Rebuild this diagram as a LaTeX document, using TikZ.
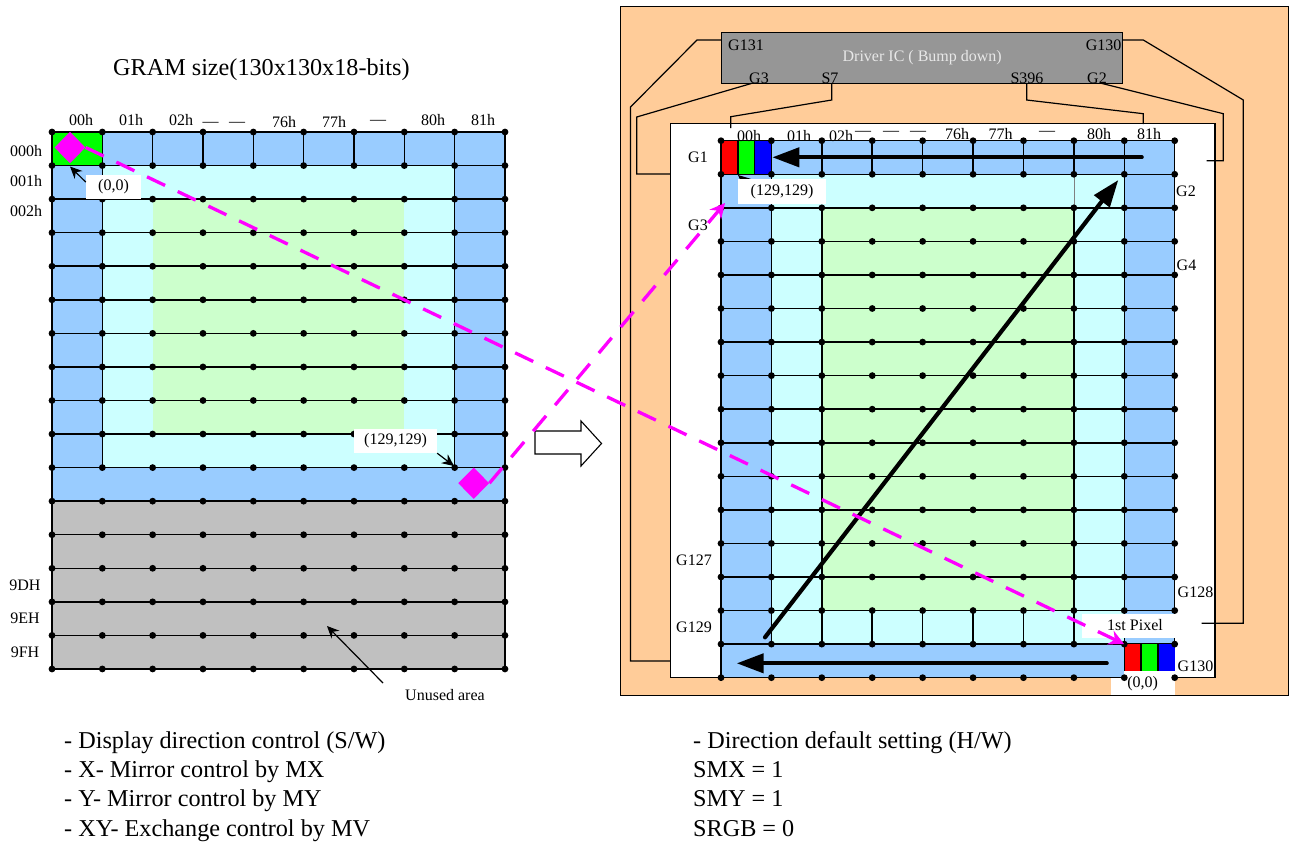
\documentclass[tikz,border=0pt]{standalone}
\usepackage{fontspec}
\setmainfont{Liberation Serif}
\usetikzlibrary{arrows.meta,shapes.geometric}
\definecolor{bluecell}{RGB}{153,204,255}
\definecolor{cyancell}{RGB}{204,255,255}
\definecolor{greencell}{RGB}{204,255,204}
\definecolor{graycell}{RGB}{192,192,192}
\definecolor{panel}{RGB}{255,204,153}
\definecolor{chip}{RGB}{150,150,150}
\definecolor{chiptext}{RGB}{232,232,232}
\definecolor{mg}{RGB}{255,0,255}
\tikzset{
  small/.style={inner sep=0pt,font=\fontsize{16}{18}\selectfont},
  big/.style={inner sep=0pt,anchor=west,font=\fontsize{24.2}{26}\selectfont},
  tag/.style={small,fill=white,minimum width=#1,minimum height=24pt},
  gridline/.style={line width=1.5pt},
  wire/.style={line width=1.2pt},
  pixmark/.style={diamond,fill=mg,inner sep=0pt,minimum width=31pt,minimum height=31.5pt},
  mgline/.style={draw=mg,line width=3.3pt,dash pattern=on 20pt off 14pt,-{Stealth[length=15pt,width=15pt]}},
  thick arrow/.style={line width=4.2pt,line cap=round,-{Triangle[length=27pt,width=19pt]}},
  thin arrow/.style={line width=1.2pt,-{Stealth[length=12pt,width=11pt]}},
}
\begin{document}
\begin{tikzpicture}[x=1pt,y=-1pt]
  \useasboundingbox (0,0) rectangle (1289,844);

  % title
  \node[big] (title) at (113,70) {GRAM size(130x130x18-bits)};

  % left grid
  \begin{scope}[shift={(52,132)},x=50.33pt,y=-33.56pt]
    \fill[bluecell] (0,0) rectangle (9,11);
    \fill[cyancell] (1,1) rectangle (8,10);
    \fill[greencell] (2,2) rectangle (7,9);
    \fill[graycell] (0,11) rectangle (9,16);
    \fill[green] (0,0) rectangle (1,1);
    \foreach \j in {0,...,16}
      \draw[gridline] (0,\j) -- (9,\j);
    \foreach \i in {0,9}
      \draw[gridline] (\i,0) -- (\i,16);
    \foreach \i in {1,8}
      \draw[gridline] (\i,0) -- (\i,10);
    \foreach \i in {2,...,7}
      \draw[gridline] (\i,0) -- (\i,1);
    \foreach \i in {0,...,9}
      \foreach \j in {0,...,16}
        \fill (\i,\j) circle[radius=3.4pt];
  \end{scope}

  % left column heads
  \node[small] (la) at (81,120) {00h};
  \node[small] (lb) at (131,120) {01h};
  \node[small] (lc) at (181,120) {02h};
  \node[small] (ld) at (210.5,124) {—};
  \node[small] (le) at (237,124) {—};
  \node[small] (lf) at (284,122) {76h};
  \node[small] (lg) at (334,122) {77h};
  \node[small] (lh) at (378,122) {—};
  \node[small] (li) at (433,120) {80h};
  \node[small] (lj) at (483,120) {81h};

  % left row heads
  \node[small] (ra) at (26,151) {000h};
  \node[small] (rb) at (26,181) {001h};
  \node[small] (rc) at (26,211) {002h};
  \node[small] (rd) at (25,585) {9DH};
  \node[small] (re) at (25,618) {9EH};
  \node[small] (rf) at (25,652) {9FH};

  % left callouts
  \node[tag=55pt] (zeroL) at (113.5,187) {(0,0)};
  \node[tag=83pt] (lastL) at (395.5,441) {(129,129)};
  \coordinate (zeroTip) at (70,166.5);
  \coordinate (lastTip) at (454,466);
  \draw[thin arrow] (zeroL.170) -- (zeroTip);
  \draw[thin arrow] (lastL.south east) -- (lastTip);
  \node[small] (unused) at (445,695) {Unused area};
  \coordinate (unusedEnd) at (383,683);
  \coordinate (unusedTip) at (327,626);
  \draw[thin arrow] (unusedEnd) -- (unusedTip);

  % hollow arrow
  \draw[line width=1.1pt,fill=white] (535,431) -- (581,431) -- (581,421) -- (601.5,443.5)
    -- (581,466) -- (581,454) -- (535,454) -- cycle;

  % right board
  \draw[line width=1pt,fill=panel] (620,6) rectangle (1288,695);
  \draw[line width=1.1pt,fill=white] (670.7,123.5) rectangle (1215,677.7);
  \node[draw,line width=1.1pt,fill=chip,minimum width=401pt,minimum height=50.6pt,inner sep=0pt,
    text=chiptext,font=\fontsize{16}{18}\selectfont] (ic) at (922.2,58) {Driver IC ( Bump down)};

  % wires
  \draw[wire] (721.7,40) -- (697,40) -- (630.5,107) -- (630.5,661) -- (670.7,661);
  \draw[wire] (753,83) -- (636.7,117) -- (636.7,174) -- (670.7,174);
  \draw[wire] (831.7,83) -- (831.7,100) -- (730.7,116.7) -- (730.7,128);
  \draw[wire] (1026.7,83) -- (1026.7,100) -- (1143.3,113.7) -- (1143.3,124);
  \draw[wire] (1100,83) -- (1223.3,113.7) -- (1223.3,160.7) -- (1206.7,160.7);
  \draw[wire] (1122.7,40) -- (1143.3,40) -- (1243.3,100) -- (1243.3,623.3) -- (1201.7,623.3);

  % chip pins
  \node[small] (pa) at (746,45) {G131};
  \node[small,anchor=east] (pb) at (1121.5,45) {G130};
  \node[small] (pc) at (759,78) {G3};
  \node[small] (pd) at (830,78) {S7};
  \node[small] (pe) at (1027,78) {S396};
  \node[small] (pf) at (1097,78) {G2};

  % right grid
  \begin{scope}[shift={(721,140.7)},x=50.41pt,y=-33.56pt]
    \fill[bluecell] (0,0) rectangle (9,16);
    \fill[cyancell] (1,1) rectangle (8,15);
    \fill[greencell] (2,2) rectangle (7,14);
    \foreach \j in {0,...,16}
      \draw[gridline] (0,\j) -- (9,\j);
    \foreach \i in {0,9}
      \draw[gridline] (\i,0) -- (\i,16);
    \foreach \i in {1,8}
      \draw[gridline] (\i,0) -- (\i,15);
    \foreach \i in {2,7}
      \draw[gridline] (\i,2) -- (\i,15);
    \foreach \i in {2,...,7}
      \draw[gridline] (\i,0) -- (\i,1);
    \foreach \i in {3,...,6}
      \draw[gridline] (\i,14) -- (\i,15);
    \draw[gray,line width=0.6pt] (7,1) -- (7,2);
    % first pixel boxes
    \fill[white] (7.74,16) rectangle (9.01,16.52);
    \fill[white] (8,15.79) rectangle (9.01,16);
    \foreach \x/\c in {0/red,1/green,2/blue} {
      \fill[\c] ({\x/3},0) rectangle ({(\x+1)/3},1);
      \draw[gridline] ({\x/3},0) rectangle ({(\x+1)/3},1);
      \fill[\c] ({8+\x/3},15) rectangle ({8+(\x+1)/3},15.79);
      \draw[gridline] ({8+\x/3},15) -- ({8+\x/3},15.79);
    }
    \foreach \i in {0,...,9}
      \foreach \j in {0,...,16}
        \fill (\i,\j) circle[radius=3.4pt];
  \end{scope}

  % right column heads
  \node[small] (ha) at (749,136) {00h};
  \node[small] (hb) at (799,136) {01h};
  \node[small] (hc) at (841,136) {02h};
  \node[small] (hd) at (863,133) {—};
  \node[small] (he) at (891,133) {—};
  \node[small] (hf) at (918,133) {—};
  \node[small] (hg) at (957,134) {76h};
  \node[small] (hh) at (1000.5,134) {77h};
  \node[small] (hi) at (1047,133) {—};
  \node[small] (hj) at (1099,134) {80h};
  \node[small] (hk) at (1149,134) {81h};

  % right row heads
  \node[small] (ga) at (698,157) {G1};
  \node[small] (gb) at (698,225) {G3};
  \node[small] (gc) at (1186,191) {G2};
  \node[small] (gd) at (1186.5,265) {G4};
  \node[small] (ge) at (694,560) {G127};
  \node[small] (gf) at (694,627) {G129};
  \node[small] (gg) at (1195.5,592) {G128};
  \node[small] (gh) at (1195.5,666) {G130};

  % right callouts
  \coordinate (lastR) at (755,190);
  \coordinate (lastRtip) at (738,175);
  \draw[thin arrow] (lastR) -- (lastRtip);
  \node[tag=88pt,minimum height=25pt] (lastLbl) at (782,191.5) {(129,129)};
  \node[tag=118pt] (firstLbl) at (1141,626) {};
  \node[small] (firstTxt) at (1135,625.5) {1st Pixel};
  \node[small] (zeroR) at (1142.7,684) {(0,0)};

  % scan arrows
  \coordinate (topA) at (1141.7,157.3);
  \coordinate (topB) at (772.3,157.3);
  \coordinate (botA) at (1106.7,663.3);
  \coordinate (botB) at (736.7,663.3);
  \coordinate (diaA) at (765,637.3);
  \coordinate (diaB) at (1118.3,180);
  \draw[thick arrow] (topA) -- (topB);
  \draw[thick arrow] (botA) -- (botB);
  \draw[thick arrow] (diaA) -- (diaB);

  % pixel marks
  \node[pixmark] (markA) at (70,147.5) {};
  \node[pixmark] (markB) at (473.7,483.2) {};
  \coordinate (pixA) at (1124,644);
  \coordinate (pixB) at (725,203);
  \draw[mgline] (markA.east) -- (pixA);
  \draw[mgline] (markB.east) -- (pixB);

  % notes
  \node[big] (na) at (64,743) {- Display direction control (S/W)};
  \node[big] (nb) at (64,772) {- X- Mirror control by MX};
  \node[big] (nc) at (64,801) {- Y- Mirror control by MY};
  \node[big] (nd) at (64,831) {- XY- Exchange control by MV};
  \node[big] (ne) at (693,743) {- Direction default setting (H/W)};
  \node[big] (nf) at (693,770) {SMX = 1};
  \node[big] (ng) at (693,799) {SMY = 1};
  \node[big] (nh) at (693,829) {SRGB = 0};
\end{tikzpicture}
\end{document}
